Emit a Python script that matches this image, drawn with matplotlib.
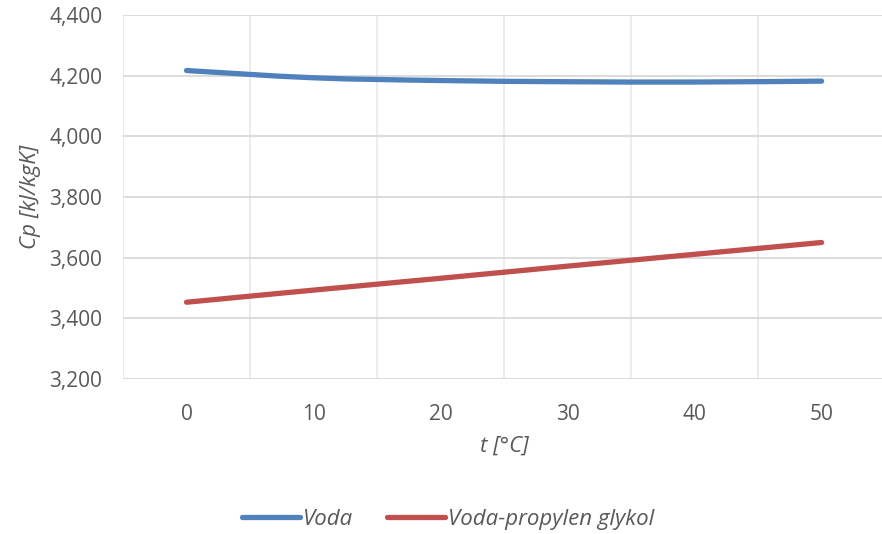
import matplotlib
matplotlib.use("Agg")
import matplotlib.pyplot as plt
from matplotlib.path import Path
from matplotlib.patches import PathPatch
from matplotlib.lines import Line2D
import numpy as np

# data
t_values = [0, 10, 20, 30, 40, 50]
cp_voda = [4217, 4193, 4184, 4180, 4179, 4182]
cp_glykol = [3453, 3493, 3532, 3572, 3611, 3650]
series_names = ["Voda", "Voda-propylen glykol"]
y_ticks = [3200, 3400, 3600, 3800, 4000, 4200, 4400]

BLUE = "#4F81BD"
RED = "#C0504D"
GRID = "#D9D9D9"
TEXT = "#595959"

plt.rcParams["font.family"] = ["Open Sans", "DejaVu Sans"]


def smooth_path(x, y):
    # Excel-like smoothed line: cubic bezier with Catmull-Rom tangents
    x = np.asarray(x, float)
    y = np.asarray(y, float)
    verts = [(x[0], y[0])]
    codes = [Path.MOVETO]
    n = len(x)
    for i in range(n - 1):
        i0 = max(i - 1, 0)
        i3 = min(i + 2, n - 1)
        c1 = (x[i] + (x[i + 1] - x[i0]) / 6, y[i] + (y[i + 1] - y[i0]) / 6)
        c2 = (x[i + 1] - (x[i3] - x[i]) / 6, y[i + 1] - (y[i3] - y[i]) / 6)
        verts += [c1, c2, (x[i + 1], y[i + 1])]
        codes += [Path.CURVE4] * 3
    return Path(verts, codes)


fig = plt.figure(figsize=(8.82, 5.34), dpi=100)
ax = fig.add_axes([0.1395, 0.2903, 0.864, 0.6816])

for vals, color in [(cp_voda, BLUE), (cp_glykol, RED)]:
    patch = PathPatch(smooth_path(t_values, vals), facecolor="none",
                      edgecolor=color, linewidth=3.8, capstyle="round",
                      joinstyle="round", zorder=3)
    ax.add_patch(patch)

ax.set_xlim(-5, 55)
ax.set_ylim(3200, 4400)
ax.set_xticks(t_values)
ax.set_yticks(y_ticks)
ax.set_yticklabels([f"{v:,}" for v in y_ticks])
ax.set_xticks(np.arange(-5, 56, 10), minor=True)

for s in ax.spines.values():
    s.set_visible(False)
ax.grid(True, axis="y", which="major", color=GRID, linewidth=1.3, zorder=0)
ax.grid(True, axis="x", which="minor", color="#EBEBEB", linewidth=1.3, zorder=0)
ax.tick_params(which="both", length=0, labelsize=15, colors=TEXT)
ax.tick_params(axis="x", pad=18)
ax.tick_params(axis="y", pad=15)

ax.set_xlabel("t [°C]", fontsize=16, style="italic", color=TEXT, labelpad=8)
ax.set_ylabel("Cp [kJ/kgK]", fontsize=16, style="italic", color=TEXT,
              labelpad=6)

handles = [Line2D([], [], color=BLUE, linewidth=3.8, solid_capstyle="round"),
           Line2D([], [], color=RED, linewidth=3.8, solid_capstyle="round")]
leg = fig.legend(handles, series_names, loc="center", ncol=2,
                 bbox_to_anchor=(0.508, 0.028), frameon=False,
                 prop={"size": 16, "style": "italic"}, handlelength=2.6,
                 handletextpad=0.15, columnspacing=1.5)
for txt in leg.get_texts():
    txt.set_color(TEXT)

fig.savefig("out.png", dpi=100)
